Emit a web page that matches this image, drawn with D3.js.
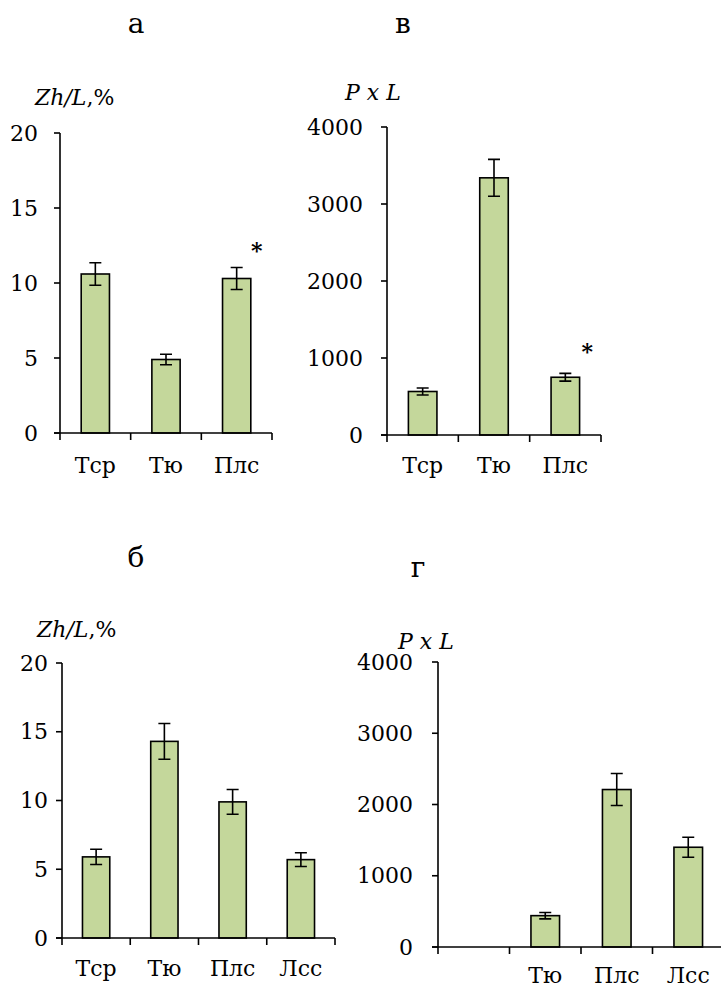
<!DOCTYPE html>
<html><head><meta charset="utf-8">
<script src="https://cdn.jsdelivr.net/npm/d3@7"></script>
<style>html,body{margin:0;padding:0;background:#fff}svg{display:block}</style>
</head><body>
<script>
// ---- data ----
const catsA = ["Тср", "Тю", "Плс"];
const valsA = [10.6, 4.9, 10.3];
const errA  = [0.75, 0.35, 0.73];

const catsV = ["Тср", "Тю", "Плс"];
const valsV = [565, 3340, 750];
const errV  = [45, 240, 50];

const catsB = ["Тср", "Тю", "Плс", "Лсс"];
const valsB = [5.9, 14.3, 9.9, 5.7];
const errB  = [0.55, 1.3, 0.9, 0.5];

const catsG = ["", "Тю", "Плс", "Лсс"];
const valsG = [null, 440, 2210, 1400];
const errG  = [null, 45, 225, 140];

const ticksPct = [0, 5, 10, 15, 20];
const ticksPL  = [0, 1000, 2000, 3000, 4000];

const FONT = "DejaVu Serif";
const W = 721, H = 989;
const svg = d3.select("body").append("svg").attr("width", W).attr("height", H)
  .style("font-family", FONT);

function txt(sel) { return sel.append("text").style("font-family", FONT).attr("fill", "#000"); }

function panel(o) {
  const g = svg.append("g");
  const x = d3.scaleBand().domain(o.cats).range([o.x0, o.x1]).padding(0);
  const y = d3.scaleLinear().domain([0, o.max]).range([o.yBot, o.yTop]);
  const bw = x.bandwidth() * 0.4;

  o.cats.forEach((c, i) => {
    const v = o.vals[i];
    if (v == null) return;
    const cx = x(c) + x.bandwidth() / 2;
    g.append("rect").attr("x", cx - bw / 2).attr("y", y(v))
      .attr("width", bw).attr("height", y(0) - y(v))
      .attr("fill", "#c4d79b").attr("stroke", "#000").attr("stroke-width", 1.6);
    const e = o.err[i];
    const cap = 6;
    g.append("path").attr("d",
      `M${cx},${y(v + e)}V${y(v - e)}M${cx - cap},${y(v + e)}H${cx + cap}M${cx - cap},${y(v - e)}H${cx + cap}`)
      .attr("stroke", "#000").attr("stroke-width", 1.6).attr("fill", "none");
  });

  g.append("line").attr("x1", o.x0).attr("x2", o.x0).attr("y1", y(o.max)).attr("y2", y(0))
    .attr("stroke", "#000").attr("stroke-width", 1.6);
  o.ticks.forEach(t => {
    g.append("line").attr("x1", o.x0 - 6).attr("x2", o.x0).attr("y1", y(t)).attr("y2", y(t))
      .attr("stroke", "#000").attr("stroke-width", 1.6);
    txt(g).attr("x", o.x0 - o.lblGap).attr("y", y(t)).attr("dy", "0.35em")
      .attr("text-anchor", "end").attr("font-size", 22).text(t);
  });

  g.append("line").attr("x1", o.x0 - 6).attr("x2", o.x1).attr("y1", y(0)).attr("y2", y(0))
    .attr("stroke", "#000").attr("stroke-width", 1.6);
  const edges = o.cats.map(c => x(c)).concat([o.x1]);
  edges.forEach(ex => {
    g.append("line").attr("x1", ex).attr("x2", ex).attr("y1", y(0)).attr("y2", y(0) + 7)
      .attr("stroke", "#000").attr("stroke-width", 1.6);
  });
  o.cats.forEach(c => {
    if (!c) return;
    txt(g).attr("x", x(c) + x.bandwidth() / 2).attr("y", o.catY)
      .attr("text-anchor", "middle").attr("font-size", 22).text(c);
  });

  const t = txt(g).attr("x", o.labX).attr("y", o.labY).attr("font-size", 22);
  o.lab.forEach(p => t.append("tspan").attr("font-style", p[1] ? "italic" : "normal").text(p[0]));

  txt(g).attr("x", o.letX).attr("y", o.letY).attr("text-anchor", "middle")
    .attr("font-size", 28).text(o.letter);

  if (o.star) {
    const si = o.star.i, c = o.cats[si];
    txt(g).attr("x", x(c) + x.bandwidth() / 2 + o.star.dx)
      .attr("y", y(o.vals[si] + o.err[si]) - o.star.dy)
      .attr("text-anchor", "middle").attr("font-size", 22).attr("font-weight", "bold").text("*");
  }
}

const labZh = [["Zh/L", true], [",%", false]];
const labPL = [["P x L", true]];

panel({cats: catsA, vals: valsA, err: errA, max: 20, ticks: ticksPct,
  x0: 60, x1: 272, yTop: 133, yBot: 433, lblGap: 22, catY: 473,
  lab: labZh, labX: 35, labY: 105, letter: "а", letX: 136, letY: 33,
  star: {i: 2, dx: 20, dy: 10}});

panel({cats: catsV, vals: valsV, err: errV, max: 4000, ticks: ticksPL,
  x0: 387, x1: 601, yTop: 127, yBot: 435, lblGap: 24, catY: 473,
  lab: labPL, labX: 345, labY: 100, letter: "в", letX: 403, letY: 33,
  star: {i: 2, dx: 22, dy: 14}});

panel({cats: catsB, vals: valsB, err: errB, max: 20, ticks: ticksPct,
  x0: 62, x1: 335, yTop: 663, yBot: 938, lblGap: 14, catY: 976,
  lab: labZh, labX: 37, labY: 637, letter: "б", letX: 136, letY: 567});

panel({cats: catsG, vals: valsG, err: errG, max: 4000, ticks: ticksPL,
  x0: 438, x1: 724, yTop: 662, yBot: 947, lblGap: 25, catY: 983,
  lab: labPL, labX: 398, labY: 649, letter: "г", letX: 418, letY: 577});
</script>
</body></html>
